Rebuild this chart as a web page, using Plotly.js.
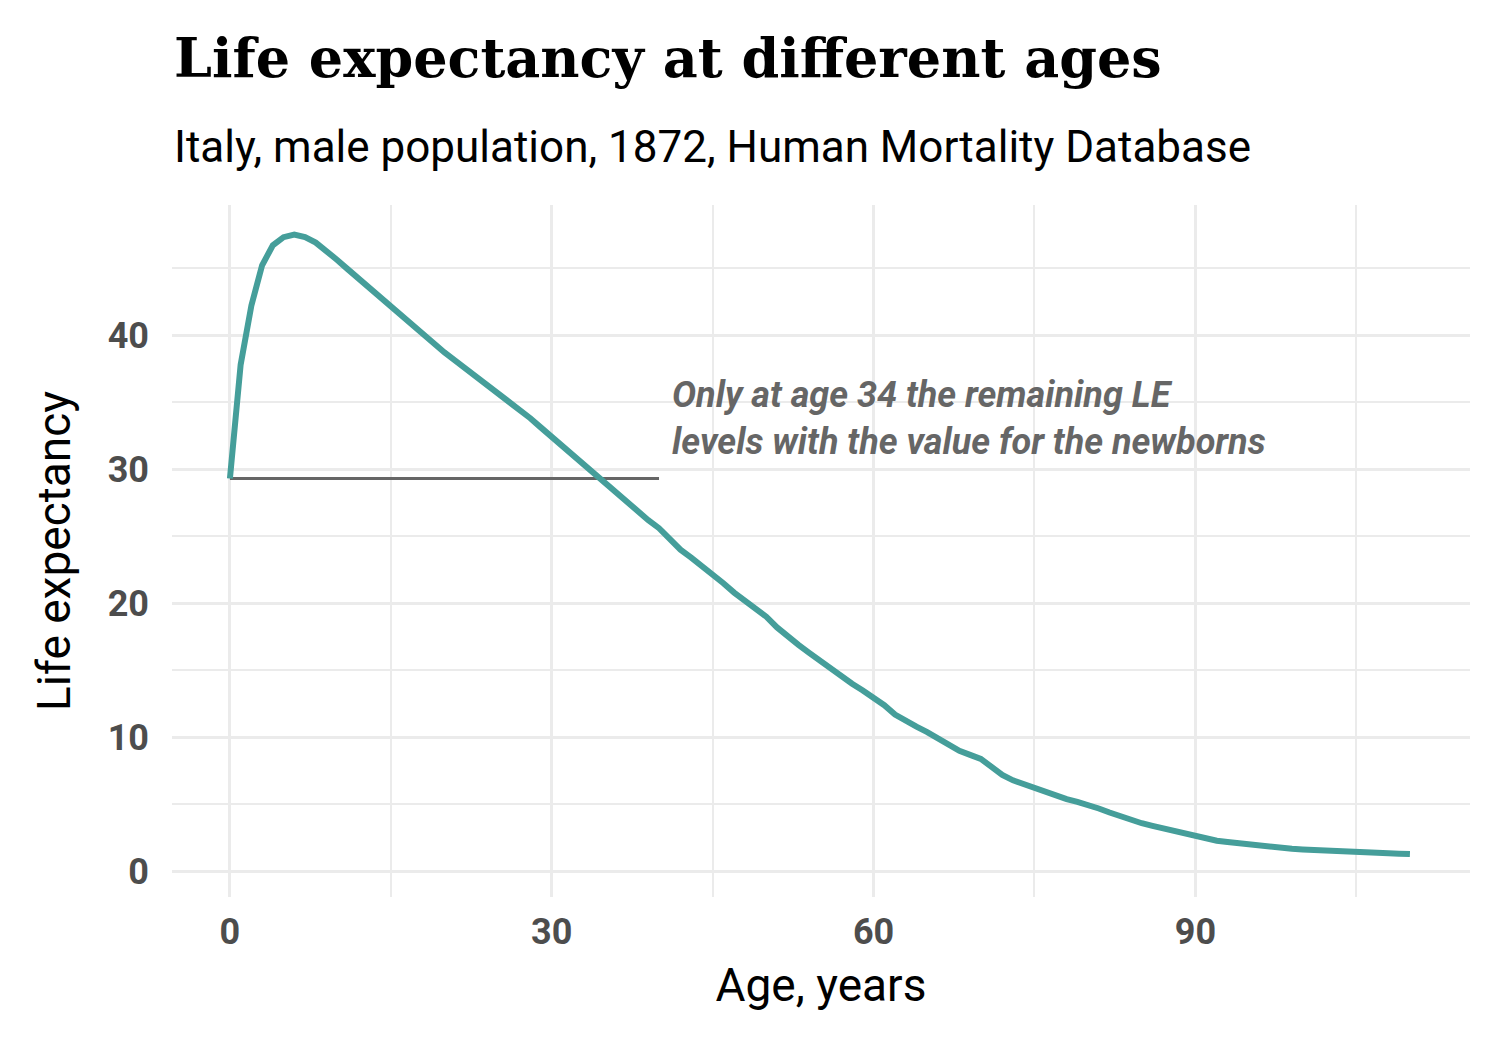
<!DOCTYPE html>
<html>
<head>
<meta charset="utf-8">
<script src="https://cdn.plot.ly/plotly-3.0.1.min.js"></script>
<style>body{margin:0;background:#fff}</style>
</head>
<body>
<div id="chart" style="width:1500px;height:1050px"></div>
<script>
// 数据：年龄与剩余预期寿命
const ages = [];
for (let a = 0; a <= 110; a++) ages.push(a);
const lifeExp = [
  29.3, 37.8, 42.2, 45.2, 46.7, 47.3, 47.5, 47.3, 46.9, 46.3,
  45.6, 44.9, 44.2, 43.5, 42.8, 42.1, 41.4, 40.7, 40.0, 39.3,
  38.7, 38.1, 37.5, 36.9, 36.3, 35.7, 35.1, 34.5, 33.8, 33.1,
  32.4, 31.7, 31.0, 30.3, 29.6, 28.9, 28.2, 27.5, 26.8, 26.2,
  25.6, 24.8, 24.0, 23.4, 22.8, 22.2, 21.5, 20.8, 20.2, 19.6,
  19.0, 18.2, 17.5, 16.9, 16.3, 15.7, 15.1, 14.5, 14.0, 13.5,
  13.0, 12.4, 11.7, 11.2, 10.8, 10.4, 9.9, 9.4, 9.0, 8.7,
  8.4, 7.8, 7.2, 6.8, 6.5, 6.2, 5.9, 5.6, 5.4, 5.2,
  5.0, 4.7, 4.4, 4.1, 3.9, 3.6, 3.4, 3.2, 3.0, 2.8,
  2.7, 2.5, 2.3, 2.2, 2.1, 2.0, 1.9, 1.8, 1.75, 1.7,
  1.65, 1.6, 1.56, 1.52, 1.48, 1.45, 1.42, 1.39, 1.36, 1.33, 1.3
];
const refLineX = [0, 40];
const refLineY = [29.3, 29.3];
const xTicks = [0, 30, 60, 90];
const yTicks = [0, 10, 20, 30, 40];

const font = 'Roboto, sans-serif';

const traces = [
  { x: refLineX, y: refLineY, type: 'scatter', mode: 'lines',
    line: { color: '#666666', width: 3 }, hoverinfo: 'none' },
  { x: ages, y: lifeExp, type: 'scatter', mode: 'lines',
    line: { color: '#459e9a', width: 6 }, hoverinfo: 'none' }
];

const layout = {
  width: 1500, height: 1050,
  showlegend: false,
  margin: { l: 172, r: 30, t: 205, b: 153 },
  paper_bgcolor: '#fff', plot_bgcolor: '#fff',
  font: { family: font },
  xaxis: {
    range: [-5.4, 115.6], tickvals: xTicks, zeroline: false,
    gridcolor: '#ebebeb', gridwidth: 3,
    minor: { tickvals: [15, 45, 75, 105], showgrid: true, gridcolor: '#ebebeb', gridwidth: 1.5 },
    tickfont: { size: 36, color: '#4d4d4d', weight: 'bold' },
    ticks: '', ticklabelstandoff: 10,
    title: { text: 'Age, years', font: { size: 46, color: '#000' }, standoff: 16 }
  },
  yaxis: {
    range: [-1.9, 49.7], tickvals: yTicks, zeroline: false,
    gridcolor: '#ebebeb', gridwidth: 3,
    minor: { tickvals: [5, 15, 25, 35, 45], showgrid: true, gridcolor: '#ebebeb', gridwidth: 1.5 },
    tickfont: { size: 36, color: '#4d4d4d', weight: 'bold' },
    ticks: '', ticklabelstandoff: 22,
    title: { text: 'Life expectancy', font: { size: 46, color: '#000' }, standoff: 22 }
  },
  annotations: [
    { xref: 'paper', yref: 'paper', x: 0, y: 1, yshift: 147,
      xanchor: 'left', yanchor: 'middle', showarrow: false,
      text: '<b>Life expectancy at different ages</b>',
      font: { family: '"DejaVu Serif", serif', size: 54, color: '#000' } },
    { xref: 'paper', yref: 'paper', x: 0, y: 1, yshift: 58,
      xanchor: 'left', yanchor: 'middle', showarrow: false,
      text: 'Italy, male population, 1872, Human Mortality Database',
      font: { family: font, size: 44, color: '#000' } },
    { x: 41, y: 33.8, xanchor: 'left', yanchor: 'middle', align: 'left',
      showarrow: false,
      text: '<b><i>Only at age 34 the remaining LE<br>levels with the value for the newborns</i></b>',
      font: { family: font, size: 36, color: '#666666' } }
  ]
};

Plotly.newPlot('chart', traces, layout, { displayModeBar: false });
</script>
</body>
</html>
